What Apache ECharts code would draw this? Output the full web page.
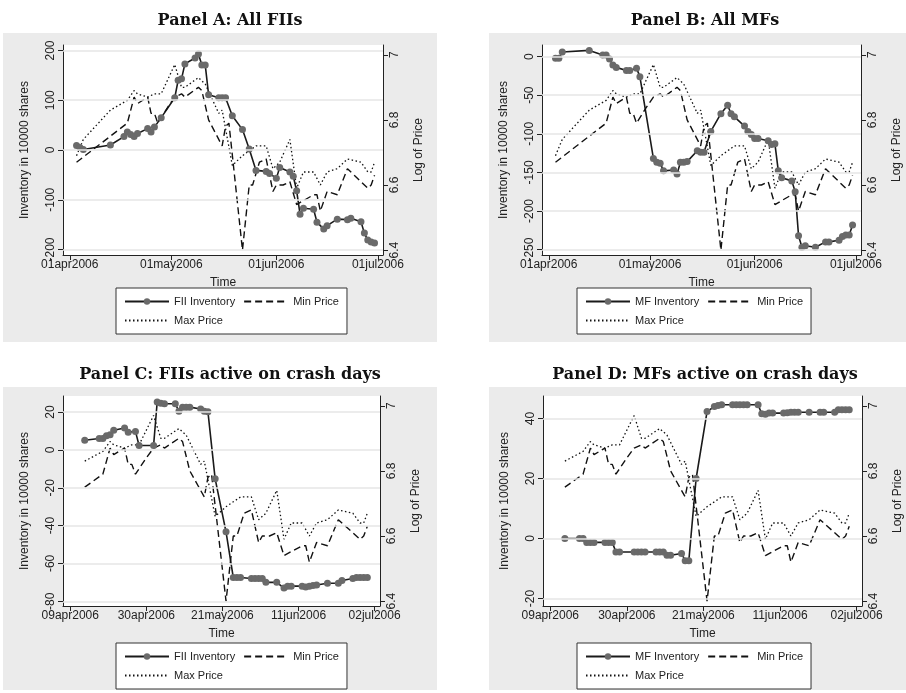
<!DOCTYPE html>
<html>
<head>
<meta charset="utf-8">
<script src="https://cdn.jsdelivr.net/npm/echarts@6/dist/echarts.min.js"></script>
<style>html,body{margin:0;padding:0;background:#fff}#chart{width:906px;height:693px}</style>
</head>
<body>
<div id="chart"></div>
<script>
// market prices (log), shared by all panels
const minDates = ['04-03','04-13','04-18','04-20','04-21','04-24','04-25','04-26','04-27','04-30','05-02','05-04','05-05','05-09','05-10','05-12','05-16','05-17','05-18','05-22','05-24','05-25','05-27','05-29','05-31','06-01','06-03','06-05','06-07','06-12','06-13','06-14','06-16','06-19','06-22','06-24','06-28','06-29','06-30']
const minPrice = [6.67,6.75,6.79,6.87,6.85,6.87,6.82,6.82,6.79,6.84,6.87,6.88,6.87,6.90,6.89,6.80,6.72,6.78,6.79,6.40,6.60,6.60,6.67,6.68,6.58,6.60,6.60,6.61,6.54,6.57,6.57,6.52,6.58,6.57,6.65,6.63,6.59,6.60,6.63]
const maxDates = ['04-03','04-05','04-13','04-18','04-20','04-21','04-24','04-26','04-28','05-02','05-04','05-05','05-09','05-11','05-15','05-16','05-19','05-22','05-26','05-29','05-31','06-02','06-05','06-07','06-09','06-12','06-14','06-16','06-19','06-22','06-26','06-28','06-29','06-30']
const maxPrice = [6.69,6.74,6.83,6.86,6.89,6.88,6.87,6.88,6.88,6.97,6.90,6.90,6.93,6.91,6.82,6.83,6.66,6.69,6.72,6.72,6.65,6.67,6.74,6.59,6.64,6.64,6.60,6.64,6.65,6.68,6.67,6.64,6.64,6.67]

// Panel A: all FIIs
const fiiAllDates = ['04-03','04-04','04-05','04-13','04-17','04-18','04-19','04-20','04-21','04-24','04-25','04-26','04-28','05-02','05-03','05-04','05-05','05-08','05-09','05-10','05-11','05-12','05-15','05-16','05-17','05-19','05-22','05-24','05-26','05-29','05-30','06-01','06-02','06-05','06-06','06-07','06-08','06-09','06-12','06-13','06-15','06-16','06-19','06-22','06-23','06-26','06-27','06-28','06-29','06-30']
const fiiAll = [9,5,1,10,27,36,31,27,33,43,36,46,65,105,140,143,173,185,193,171,171,111,105,105,105,69,41,2,-41,-43,-47,-57,-35,-44,-53,-82,-129,-117,-119,-145,-159,-152,-139,-140,-137,-144,-167,-181,-185,-187]
// Panel B: all MFs
const mfAllDates = ['04-03','04-04','04-05','04-13','04-17','04-18','04-19','04-20','04-21','04-24','04-25','04-27','04-28','05-02','05-03','05-04','05-05','05-08','05-09','05-10','05-11','05-12','05-15','05-16','05-17','05-19','05-22','05-24','05-25','05-26','05-29','05-30','05-31','06-01','06-02','06-05','06-06','06-07','06-08','06-09','06-12','06-13','06-14','06-15','06-16','06-19','06-22','06-23','06-26','06-27','06-28','06-29','06-30']
const mfAll = [-2,-2,6,8,2,2,-3,-11,-14,-18,-18,-15,-26,-132,-137,-138,-148,-147,-152,-137,-137,-136,-122,-124,-124,-97,-74,-63,-74,-78,-90,-97,-101,-106,-106,-109,-114,-113,-148,-157,-161,-175,-232,-247,-245,-247,-240,-240,-238,-233,-231,-231,-218]
// Panel C: FIIs active on crash days
const fiiCrashDates = ['04-13','04-17','04-18','04-19','04-20','04-21','04-24','04-25','04-27','04-28','05-02','05-03','05-04','05-05','05-08','05-09','05-10','05-11','05-12','05-15','05-16','05-17','05-19','05-22','05-24','05-25','05-26','05-29','05-30','05-31','06-01','06-02','06-05','06-07','06-08','06-09','06-12','06-13','06-14','06-15','06-16','06-19','06-22','06-23','06-26','06-27','06-28','06-29','06-30']
const fiiCrash = [5.1,6,6,7.5,8,10.4,11.6,9.3,9.8,2.3,2.3,25.3,24.7,24.4,24.4,20.4,22.6,22.6,22.6,21.6,20.4,20.2,-15.3,-43.3,-67.4,-67.4,-67.4,-68,-68,-68,-68,-70,-70,-73,-72,-72,-72,-72.5,-72,-71.7,-71.4,-70.5,-70.5,-69,-68,-67.4,-67.4,-67.4,-67.4]
// Panel D: MFs active on crash days
const mfCrashDates = ['04-13','04-17','04-18','04-19','04-20','04-21','04-24','04-25','04-26','04-27','04-28','05-02','05-03','05-04','05-05','05-08','05-09','05-10','05-11','05-12','05-15','05-16','05-17','05-19','05-22','05-24','05-25','05-26','05-29','05-30','05-31','06-01','06-02','06-05','06-06','06-07','06-08','06-09','06-12','06-13','06-14','06-15','06-16','06-19','06-22','06-23','06-26','06-27','06-28','06-29','06-30']
const mfCrash = [0,0,0,-1.3,-1.3,-1.3,-1.3,-1.3,-1.3,-4.5,-4.5,-4.5,-4.5,-4.5,-4.5,-4.5,-4.5,-4.5,-5.6,-5.6,-5,-7.4,-7.4,20,42.3,44,44.3,44.6,44.6,44.6,44.6,44.6,44.6,44.6,41.6,41.4,41.8,41.8,41.8,41.9,42.1,42.1,42.1,42.1,42.1,42.1,42.1,42.9,42.9,42.9,42.9]

const monthTicks = ['04-01','05-01','06-01','07-01']
const weekTicks = ['04-09','04-30','05-21','06-11','07-02']
const priceTicks = [6.4, 6.6, 6.8, 7]
const ticksA = [-200, -100, 0, 100, 200]
const ticksB = [-250, -200, -150, -100, -50, 0]
const ticksC = [-80, -60, -40, -20, 0, 20]
const ticksD = [-20, 0, 20, 40]

const ts = md => Date.UTC(2006, +md.slice(0, 2) - 1, +md.slice(3))
const pairs = (dates, vals, from) => dates.map((d, i) => [ts(d), vals[i]]).filter(p => !from || p[0] >= ts(from))
const mon = ['jan','feb','mar','apr','may','jun','jul','aug','sep','oct','nov','dec']
const fmtDate = v => { const d = new Date(v); return String(d.getUTCDate()).padStart(2, '0') + mon[d.getUTCMonth()] + d.getUTCFullYear() }

const font = 'Liberation Sans'
const panels = [
    {title: 'Panel A: All FIIs', name: 'FII Inventory', dates: fiiAllDates, vals: fiiAll, ticks: monthTicks, from: null,
     yTicks: ticksA, yRange: [-211, 211], grid: {left: 63, top: 45, width: 320, height: 210}, bg: [3, 33, 434, 309], cx: 225, ty: 18, leg: [116, 288]},
    {title: 'Panel B: All MFs', name: 'MF Inventory', dates: mfAllDates, vals: mfAll, ticks: monthTicks, from: null,
     yTicks: ticksB, yRange: [-257, 15], grid: {left: 542, top: 45, width: 319, height: 210}, bg: [489, 33, 417, 309], cx: 700, ty: 18, leg: [577, 288]},
    {title: 'Panel C: FIIs active on crash days', name: 'FII Inventory', dates: fiiCrashDates, vals: fiiCrash, ticks: weekTicks, from: '04-13',
     yTicks: ticksC, yRange: [-82.5, 28.5], grid: {left: 63, top: 396, width: 317, height: 210}, bg: [3, 387, 434, 303], cx: 225, ty: 372, leg: [116, 643]},
    {title: 'Panel D: MFs active on crash days', name: 'MF Inventory', dates: mfCrashDates, vals: mfCrash, ticks: weekTicks, from: '04-13',
     yTicks: ticksD, yRange: [-22.5, 47.5], grid: {left: 543, top: 396, width: 319, height: 210}, bg: [489, 387, 417, 303], cx: 700, ty: 372, leg: [577, 643]}
]

const option = {animation: false, textStyle: {fontFamily: font}, grid: [], xAxis: [], yAxis: [], series: [], legend: [], title: [], graphic: []}
const lab = {color: '#222', fontSize: 12, fontFamily: font}
panels.forEach((p, i) => {
    option.graphic.push({type: 'rect', z: -10, shape: {x: p.bg[0], y: p.bg[1], width: p.bg[2], height: p.bg[3]}, style: {fill: '#ebebeb'}})
    option.title.push({text: p.title, left: p.cx, top: p.ty - 10, textAlign: 'center',
        textStyle: {fontFamily: 'DejaVu Serif', fontWeight: 'bold', fontSize: 16, color: '#111'}})
    option.grid.push(Object.assign({show: true, backgroundColor: '#fff', borderWidth: 0}, p.grid))
    const tickVals = p.ticks.map(ts)
    const day = 86400000
    option.xAxis.push({type: 'value', gridIndex: i, min: tickVals[0] - 2 * day, max: tickVals[tickVals.length - 1] + 1.5 * day,
        name: 'Time', nameLocation: 'middle', nameGap: 22, nameTextStyle: lab,
        axisLine: {onZero: false, lineStyle: {color: '#222'}}, splitLine: {show: false},
        axisTick: {customValues: tickVals, lineStyle: {color: '#222'}},
        axisLabel: Object.assign({customValues: tickVals, formatter: fmtDate, margin: 4}, lab)})
    option.yAxis.push({type: 'value', gridIndex: i, min: p.yRange[0], max: p.yRange[1],
        name: 'Inventory in 10000 shares', nameLocation: 'middle', nameGap: 32, nameTextStyle: lab,
        axisLine: {show: true, onZero: false, lineStyle: {color: '#222'}}, axisTick: {show: true, customValues: p.yTicks, lineStyle: {color: '#222'}},
        axisLabel: Object.assign({rotate: 90, margin: 6, customValues: p.yTicks}, lab),
        splitLine: {show: false}})
    option.yAxis.push({type: 'value', gridIndex: i, position: 'right', min: 6.385, max: 7.03,
        name: 'Log of Price', nameLocation: 'middle', nameGap: 30, nameRotate: 90, nameTextStyle: lab,
        axisLine: {show: true, onZero: false, lineStyle: {color: '#222'}}, axisTick: {show: true, customValues: priceTicks, lineStyle: {color: '#222'}},
        axisLabel: Object.assign({rotate: 90, margin: 6, customValues: priceTicks, formatter: v => String(+v.toFixed(1))}, lab),
        splitLine: {show: false}})
    // horizontal grid lines at the left-axis ticks
    option.series.push({type: 'line', xAxisIndex: i, yAxisIndex: 2 * i, data: [], silent: true,
        markLine: {silent: true, symbol: 'none', label: {show: false}, lineStyle: {color: '#e6e6e6', width: 1.5, type: 'solid'},
            data: p.yTicks.map(v => ({yAxis: v}))}, z: 1})
    option.series.push({name: p.name, type: 'line', xAxisIndex: i, yAxisIndex: 2 * i, data: pairs(p.dates, p.vals),
        symbol: 'circle', symbolSize: 7, itemStyle: {color: '#6a6a6a'}, lineStyle: {color: '#1a1a1a', width: 1.6}, z: 3})
    option.series.push({name: 'Min Price', type: 'line', xAxisIndex: i, yAxisIndex: 2 * i + 1, data: pairs(minDates, minPrice, p.from),
        symbol: 'none', itemStyle: {color: '#111'}, lineStyle: {color: '#111', width: 1.4, type: [7, 4]}})
    option.series.push({name: 'Max Price', type: 'line', xAxisIndex: i, yAxisIndex: 2 * i + 1, data: pairs(maxDates, maxPrice, p.from),
        symbol: 'none', itemStyle: {color: '#111'}, lineStyle: {color: '#111', width: 1.3, type: [1.5, 2.5]}})
    option.legend.push({data: [p.name, {name: 'Min Price', itemStyle: {opacity: 0}}, {name: 'Max Price', itemStyle: {opacity: 0}}],
        left: p.leg[0], top: p.leg[1], width: 264,
        orient: 'horizontal', itemGap: 8, itemWidth: 44, itemHeight: 8, padding: [8, 8, 8, 8],
        backgroundColor: '#fff', borderColor: '#333', borderWidth: 1, selectedMode: false,
        textStyle: {fontSize: 11, color: '#222', fontFamily: font, width: 82}})
})

const myChart = echarts.init(document.getElementById('chart'))
myChart.setOption(option)
</script>
</body>
</html>
